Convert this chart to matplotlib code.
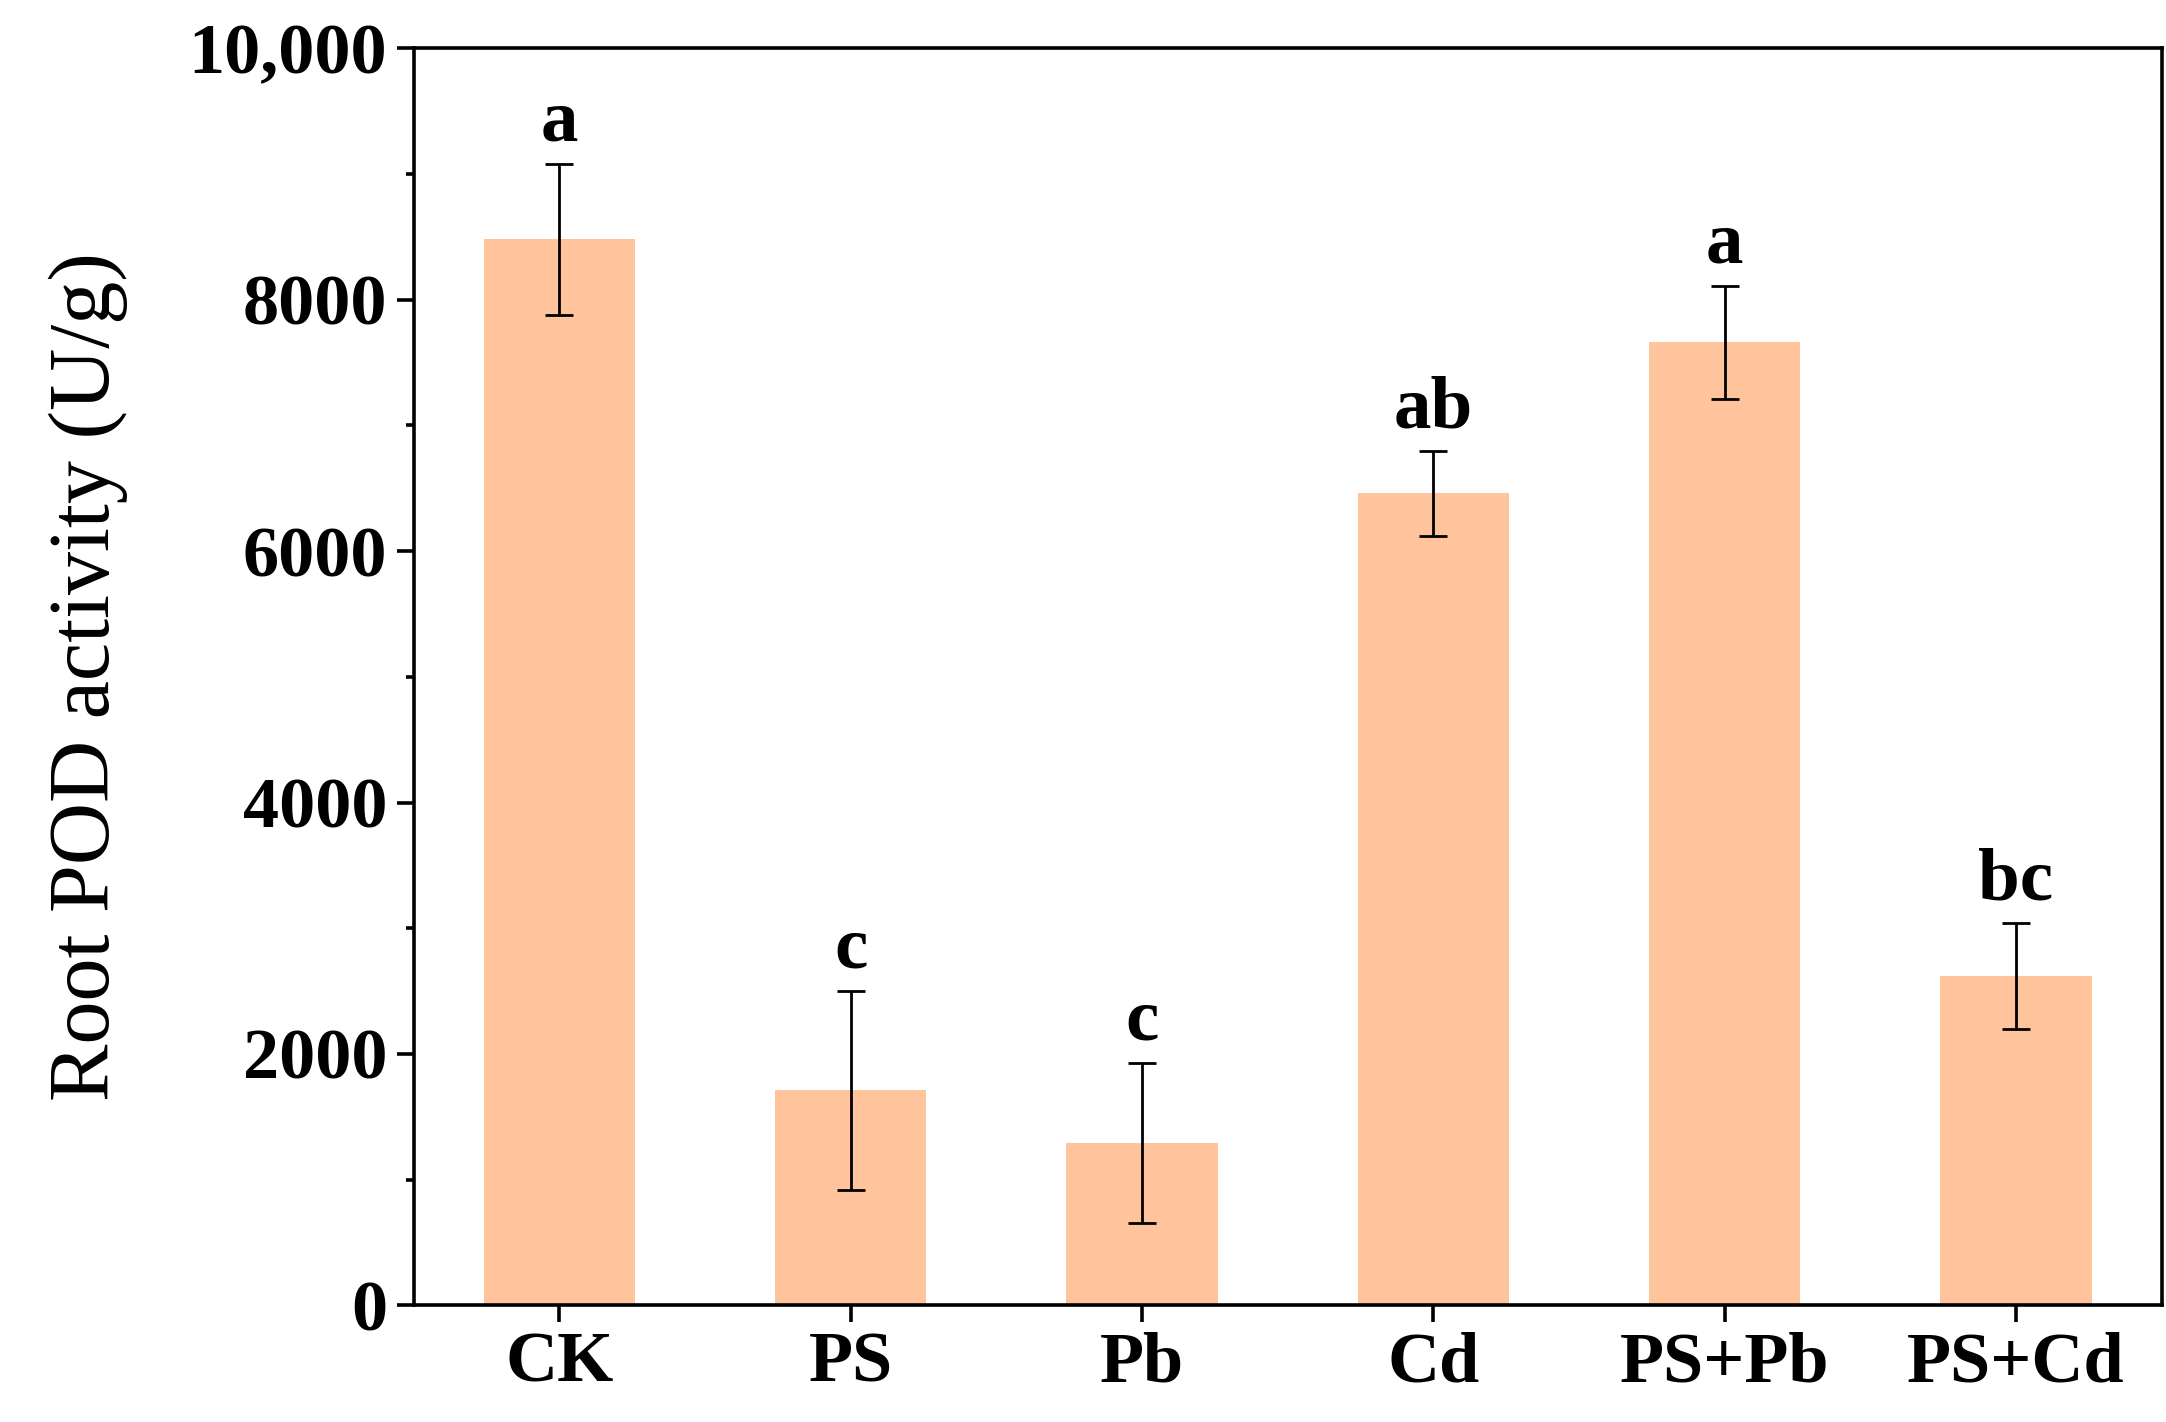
import matplotlib.pyplot as plt
from matplotlib.ticker import MultipleLocator

groups = ['CK', 'PS', 'Pb', 'Cd', 'PS+Pb', 'PS+Cd']
pod = [8480, 1710, 1290, 6460, 7660, 2620]
err = [600, 790, 635, 340, 450, 425]
letters = ['a', 'c', 'c', 'ab', 'a', 'bc']
yticks = [0, 2000, 4000, 6000, 8000, 10000]
ytick_labels = ['0', '2000', '4000', '6000', '8000', '10,000']

plt.rcParams['font.family'] = ['Liberation Serif', 'DejaVu Serif']
fig = plt.figure(figsize=(10.83, 7.11), dpi=200)
ax = fig.add_axes([0.191, 0.082, 0.807, 0.884])
x = range(len(groups))
ax.bar(x, pod, width=0.52, color='#FFC49B', yerr=err, capsize=5,
       error_kw=dict(elinewidth=1, capthick=1, ecolor='black'))
for i in x:
    ax.text(i, pod[i] + err[i] + 60, letters[i], ha='center', va='bottom',
            fontsize=27, fontweight='bold')
ax.set_xlim(-0.5, 5.5)
ax.set_ylim(0, 10000)
ax.set_yticks(yticks)
ax.set_yticklabels(ytick_labels)
ax.yaxis.set_minor_locator(MultipleLocator(1000))
ax.set_xticks(list(x))
ax.set_xticklabels(groups)
for lab in ax.get_xticklabels() + ax.get_yticklabels():
    lab.set_fontweight('bold')
ax.tick_params(axis='both', labelsize=26, width=1.3, length=6, direction='out')
ax.tick_params(axis='y', which='minor', length=3, width=1.3)
for s in ax.spines.values():
    s.set_linewidth(1.3)
ax.set_ylabel('Root POD activity (U/g)', fontsize=31, labelpad=22)
fig.savefig('out.png')
